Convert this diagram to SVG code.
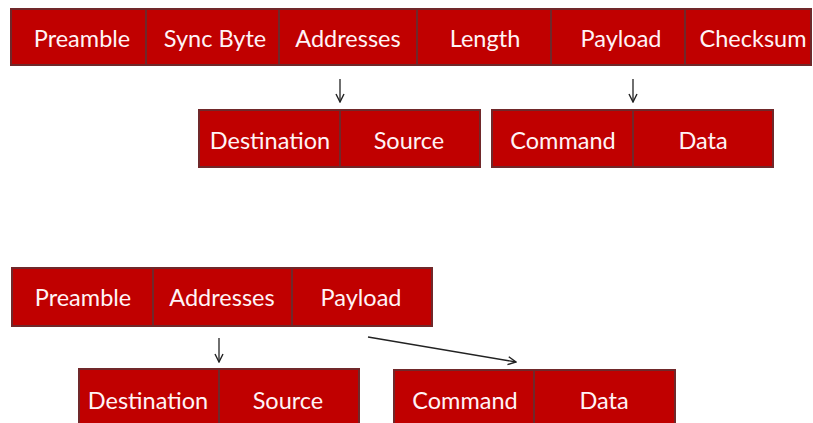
<svg xmlns="http://www.w3.org/2000/svg" width="813" height="423" viewBox="0 0 813 423">
<defs>
<style>
.c{fill:#C00000;stroke:#70282A;stroke-width:2}
.t{font-family:Lato,"Open Sans",sans-serif;font-size:23.5px;fill:#FFF3F6;text-anchor:middle;dominant-baseline:central}
.a{stroke:#222;stroke-width:1.3;fill:none}
</style>
<marker id="arr" viewBox="0 0 10 10" refX="9" refY="5" markerWidth="10" markerHeight="10" markerUnits="userSpaceOnUse" orient="auto">
<path d="M1,1 L9,5 L1,9" fill="none" stroke="#222" stroke-width="1.4"/>
</marker>
</defs>
<rect width="813" height="423" fill="#fff"/>
<g id="frame1">
<g id="f1-preamble"><rect class="c" x="11" y="9" width="135" height="56"/><text class="t" x="82" y="38">Preamble</text></g>
<g id="f1-sync"><rect class="c" x="146" y="9" width="133" height="56"/><text class="t" x="215" y="38">Sync Byte</text></g>
<g id="f1-addresses"><rect class="c" x="279" y="9" width="138" height="56"/><text class="t" x="348" y="38">Addresses</text></g>
<g id="f1-length"><rect class="c" x="417" y="9" width="134" height="56"/><text class="t" x="485" y="38">Length</text></g>
<g id="f1-payload"><rect class="c" x="551" y="9" width="134" height="56"/><text class="t" x="621" y="38">Payload</text></g>
<g id="f1-checksum"><rect class="c" x="685" y="9" width="126" height="56"/><text class="t" x="753" y="38">Checksum</text></g>
</g>
<g id="frame1-addr">
<g id="f1-destination"><rect class="c" x="199" y="110" width="141" height="57"/><text class="t" x="270" y="140">Destination</text></g>
<g id="f1-source"><rect class="c" x="340" y="110" width="140" height="57"/><text class="t" x="409" y="140">Source</text></g>
</g>
<g id="frame1-payload">
<g id="f1-command"><rect class="c" x="492" y="110" width="141" height="57"/><text class="t" x="563" y="140">Command</text></g>
<g id="f1-data"><rect class="c" x="633" y="110" width="140" height="57"/><text class="t" x="703" y="140">Data</text></g>
</g>
<g id="frame2">
<g id="f2-preamble"><rect class="c" x="12" y="268" width="141" height="58"/><text class="t" x="83" y="297">Preamble</text></g>
<g id="f2-addresses"><rect class="c" x="153" y="268" width="139" height="58"/><text class="t" x="222" y="297">Addresses</text></g>
<g id="f2-payload"><rect class="c" x="292" y="268" width="140" height="58"/><text class="t" x="361" y="297">Payload</text></g>
</g>
<g id="frame2-addr">
<g id="f2-destination"><rect class="c" x="79" y="369" width="140" height="57"/><text class="t" x="148" y="400">Destination</text></g>
<g id="f2-source"><rect class="c" x="219" y="369" width="140" height="57"/><text class="t" x="288" y="400">Source</text></g>
</g>
<g id="frame2-payload">
<g id="f2-command"><rect class="c" x="394" y="370" width="140" height="57"/><text class="t" x="465" y="400">Command</text></g>
<g id="f2-data"><rect class="c" x="534" y="370" width="141" height="57"/><text class="t" x="604" y="400">Data</text></g>
</g>
<g id="connectors">
<line class="a" x1="340" y1="79" x2="340" y2="102" marker-end="url(#arr)"/>
<line class="a" x1="633" y1="79" x2="633" y2="102" marker-end="url(#arr)"/>
<line class="a" x1="219" y1="338" x2="219" y2="362" marker-end="url(#arr)"/>
<line class="a" x1="368" y1="337" x2="516" y2="362" marker-end="url(#arr)"/>
</g>
</svg>
